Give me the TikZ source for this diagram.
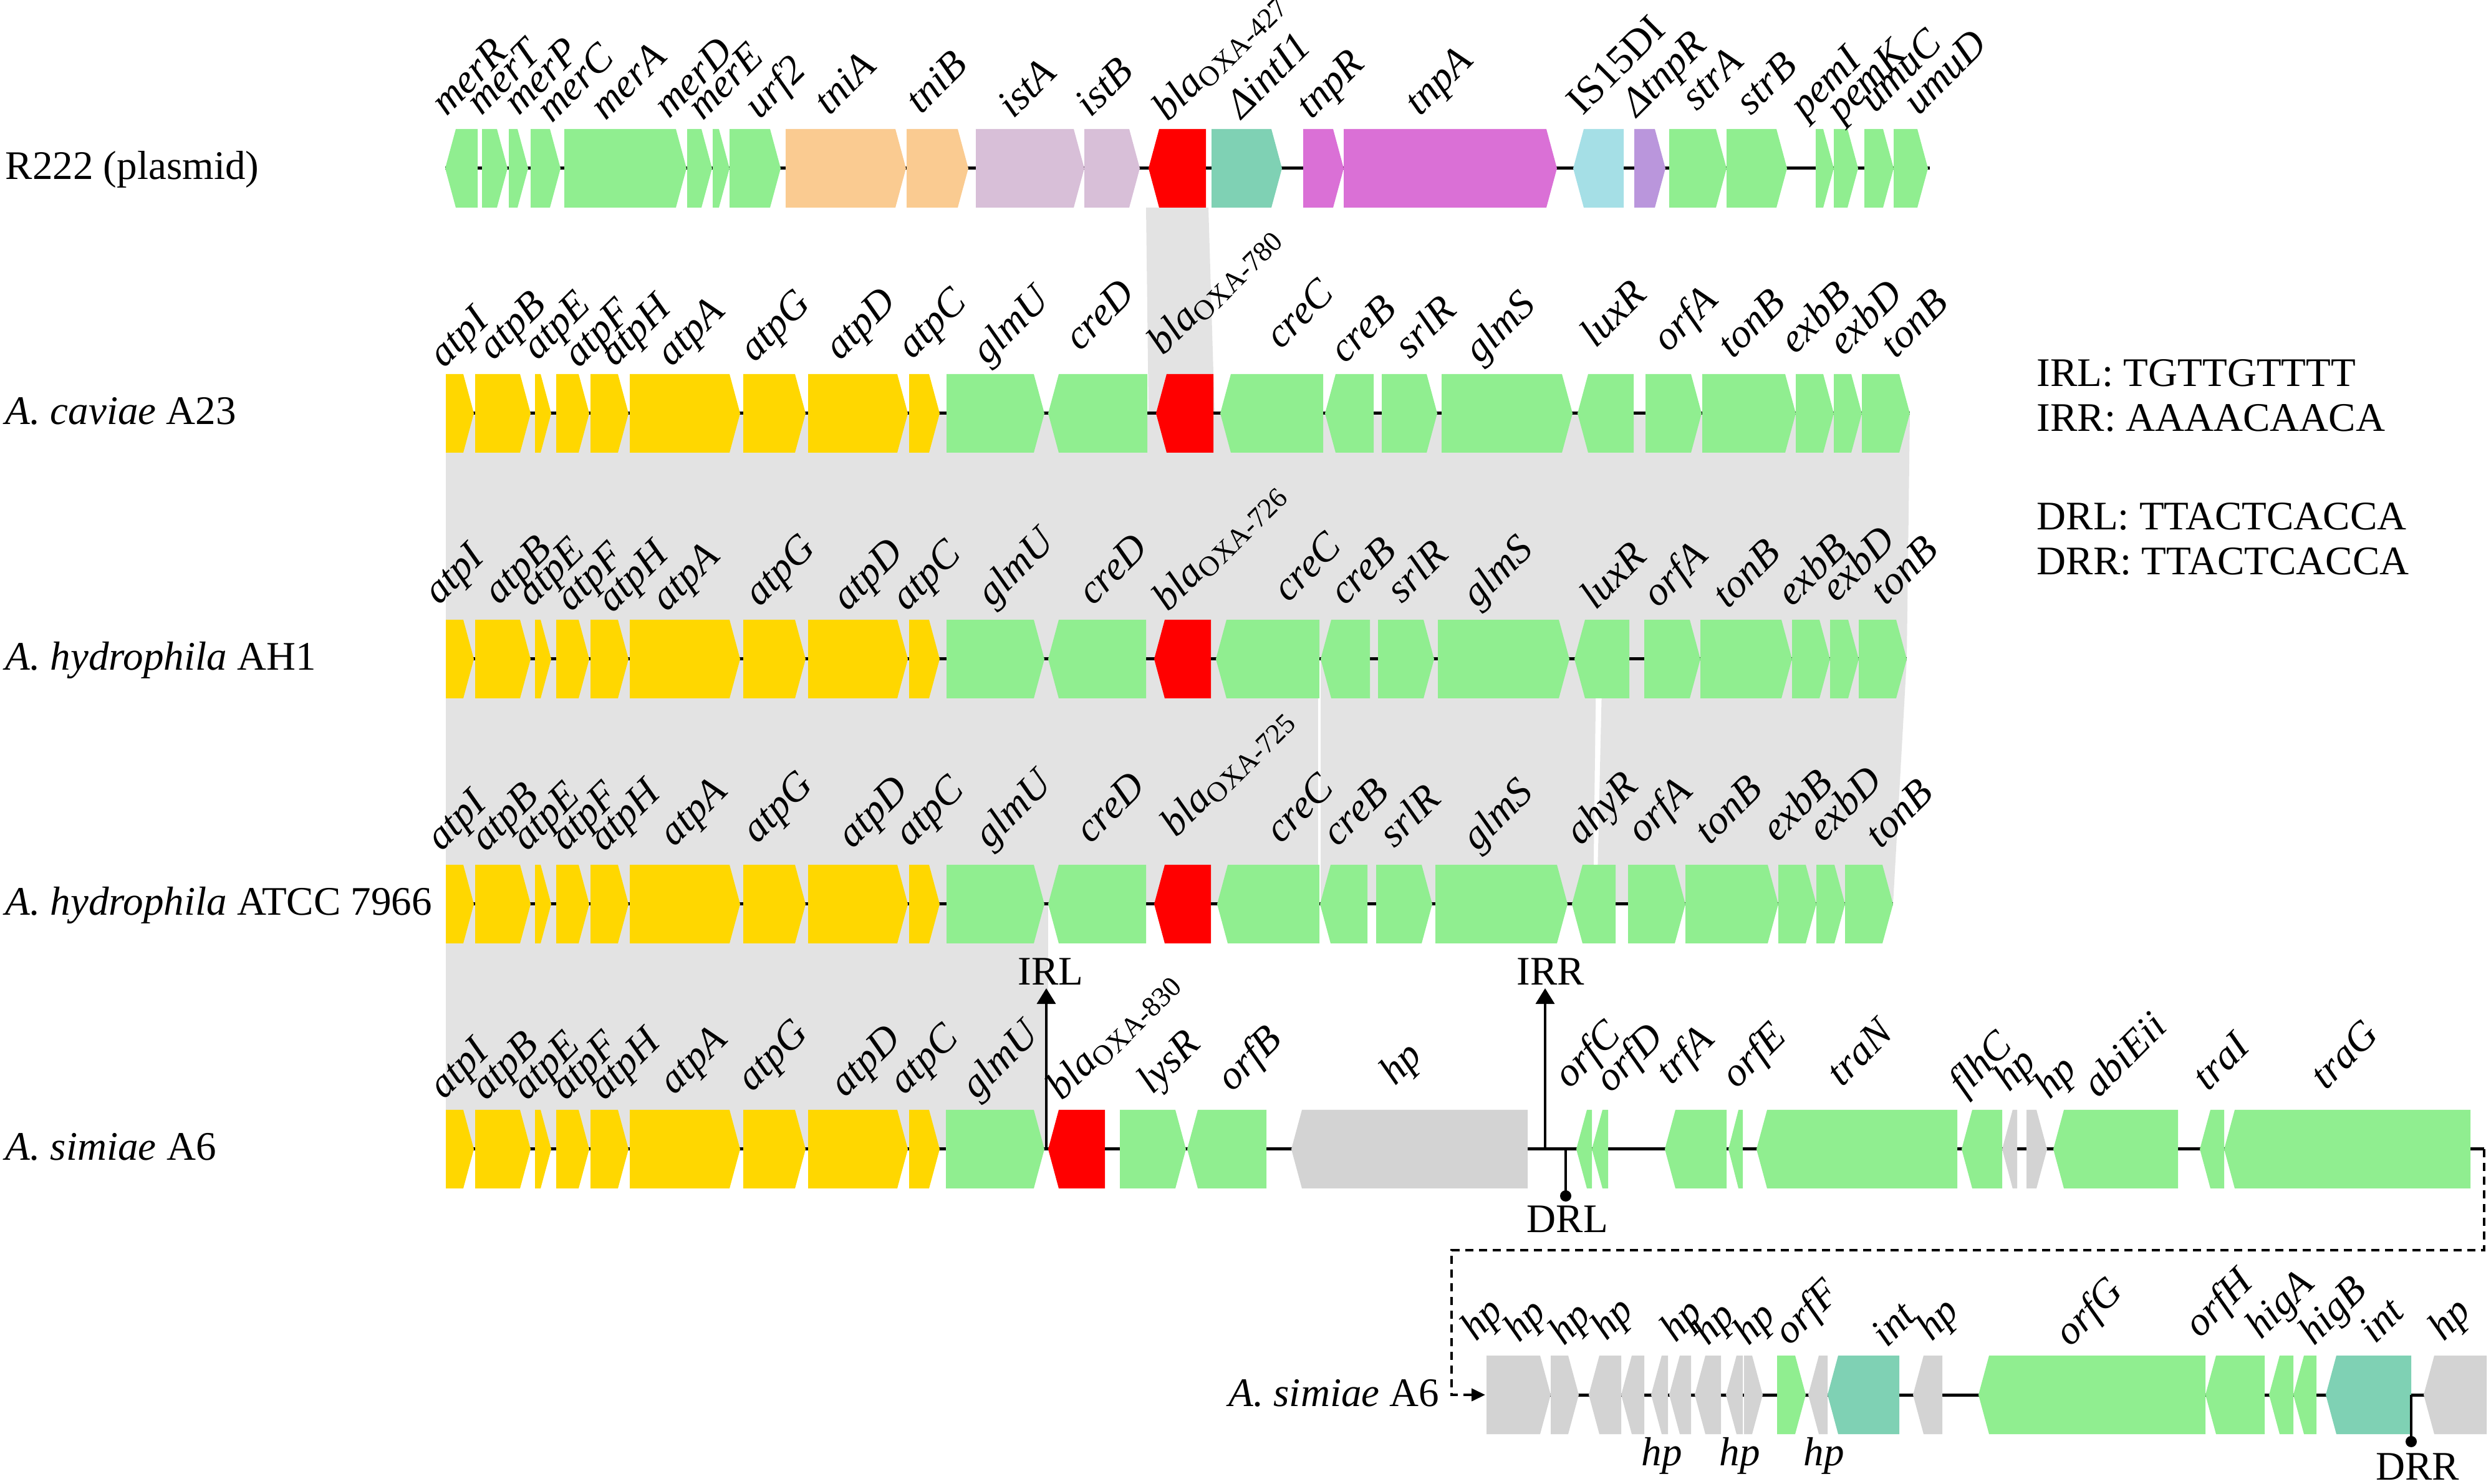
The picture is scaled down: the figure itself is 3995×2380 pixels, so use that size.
\documentclass[tikz,border=0pt]{standalone}
\usepackage{fontspec}
\setmainfont{Liberation Serif}
\usetikzlibrary{arrows.meta}
\definecolor{cG}{RGB}{144,238,144}
\definecolor{cY}{RGB}{255,215,0}
\definecolor{cO}{RGB}{250,203,145}
\definecolor{cT}{RGB}{216,191,216}
\definecolor{cR}{RGB}{255,0,0}
\definecolor{cA}{RGB}{127,209,180}
\definecolor{cM}{RGB}{218,112,214}
\definecolor{cB}{RGB}{165,223,230}
\definecolor{cP}{RGB}{186,150,220}
\definecolor{cH}{RGB}{211,211,211}
\definecolor{conn}{RGB}{227,227,227}
\newcommand\fsz{\fontsize{18.5}{22}\selectfont}
\tikzset{
  glab/.style={rotate=45, anchor=base west, inner sep=0pt, font=\fsz\itshape},
  txt/.style={inner sep=0pt, font=\fsz},
  rowlab/.style={txt, anchor=base west},
  bb/.style={line width=0.05cm},
  mk/.style={line width=0.035cm},
  dsh/.style={line width=0.04cm, dash pattern=on 0.13cm off 0.09cm},
}
\newcommand\generow[2]{%
  \foreach \gl/\gr/\gd/\gc/\gt/\lx/\ly [count=\gi] in {#2} {
    \pgfmathsetmacro\hl{min(17,0.7*(\gr-\gl))}
    \ifnum\gd=1
      \fill[fill=\gc] (\gl,#1-63) -- (\gr-\hl,#1-63) -- (\gr,#1) -- (\gr-\hl,#1+63) -- (\gl,#1+63) -- cycle;
    \else
      \fill[fill=\gc] (\gr,#1-63) -- (\gl+\hl,#1-63) -- (\gl,#1) -- (\gl+\hl,#1+63) -- (\gr,#1+63) -- cycle;
    \fi
    \node[glab] (g#1-\gi) at (\lx,\ly) {\gt};
  }%
}
\newcommand\blalab[1]{bla\textsubscript{\upshape OXA-#1}}
\begin{document}
\begin{tikzpicture}[x=0.01cm, y=-0.01cm]
\useasboundingbox (0,0) rectangle (3995,2380);
% homology connections
\fill[conn] (1838,333) -- (1938,333) -- (1948,663) -- (1842,663) -- cycle;
\fill[conn] (715,663) -- (3063,663) -- (3058,1057) -- (715,1057) -- cycle;
\fill[conn] (715,1057) -- (2114,1057) -- (2114,1450) -- (715,1450) -- cycle;
\fill[conn] (2118,1057) -- (2560,1057) -- (2555,1450) -- (2118,1450) -- cycle;
\fill[conn] (2570,1057) -- (3058,1057) -- (3036,1450) -- (2561,1450) -- cycle;
\fill[conn] (715,1450) -- (1681,1450) -- (1681,1843) -- (715,1843) -- cycle;
% backbones
\draw[bb] (714,270) -- (3095,270);
\draw[bb] (715,663) -- (3063,663);
\draw[bb] (715,1057) -- (3058,1057);
\draw[bb] (715,1450) -- (3036,1450);
\draw[bb] (715,1843) -- (3984,1843);
\draw[bb] (2384,2237) -- (3988,2237);
% row 1
\generow{270}{714/766/-1/cG/merR/716/188, 773/814/1/cG/merT/772/187, 816/847/1/cG/merP/832/187,
 851/899/1/cG/merC/885/199, 905/1101/1/cG/merA/971/195, 1102/1142/1/cG/merD/1073/192,
 1143/1170/1/cG/merE/1127/195, 1170/1252/1/cG/urf2/1218/193, 1260/1453/1/cO/tniA/1330/187,
 1454/1553/1/cO/tniB/1477/185, 1565/1739/1/cT/istA/1625/192, 1739/1828/1/cT/istB/1749/190,
 1842/1934/-1/cR/{\blalab{427}}/1873/197, 1943/2056/1/cA/{ΔintI1}/1991/193,
 2090/2155/1/cM/tnpR/2103/193, 2155/2497/1/cM/tnpA/2277/188, 2523/2604/-1/cB/{\upshape IS15DI}/2538/187,
 2621/2671/1/cP/{ΔtnpR}/2625/190, 2677/2769/1/cG/strA/2721/180, 2769/2866/1/cG/strB/2808/187,
 2912/2941/1/cG/pemI/2895/193, 2941/2980/1/cG/pemK/2953/198, 2990/3037/1/cG/umuC/3007/183,
 3037/3092/1/cG/umuD/3077/187}
% row 2
\generow{663}{715/760/1/cY/atpI/712/592, 762/851/1/cY/atpB/791/580, 858/884/1/cY/atpE/862/580,
 892/945/1/cY/atpF/928/592, 947/1008/1/cY/atpH/986/590, 1010/1187/1/cY/atpA/1077/590,
 1192/1292/1/cY/atpG/1210/583, 1296/1456/1/cY/atpD/1347/580, 1458/1507/1/cY/atpC/1463/578,
 1518/1675/1/cG/glmU/1583/587, 1681/1840/-1/cG/creD/1732/565, 1854/1946/-1/cR/{\blalab{780}}/1865/572,
 1957/2122/-1/cG/creC/2054/562, 2125/2203/-1/cG/creB/2157/585, 2216/2305/1/cG/srlR/2261/578,
 2312/2522/1/cG/glmS/2373/585, 2530/2620/-1/cG/luxR/2559/560, 2639/2729/1/cG/orfA/2675/567,
 2730/2880/1/cG/tonB/2779/577, 2880/2941/1/cG/exbB/2879/570, 2941/2986/1/cG/exbD/2957/573,
 2986/3063/1/cG/tonB/3040/577}
% row 3
\generow{1057}{715/760/1/cY/atpI/704/972, 762/851/1/cY/atpB/800/972, 858/884/1/cY/atpE/853/975,
 892/945/1/cY/atpF/916/983, 947/1008/1/cY/atpH/982/985, 1010/1187/1/cY/atpA/1069/983,
 1192/1292/1/cY/atpG/1218/975, 1296/1456/1/cY/atpD/1359/982, 1458/1507/1/cY/atpC/1454/982,
 1518/1675/1/cG/glmU/1591/975, 1681/1838/-1/cG/creD/1753/973, 1851/1942/-1/cR/{\blalab{726}}/1873/983,
 1950/2116/-1/cG/creC/2066/968, 2118/2197/-1/cG/creB/2157/973, 2210/2300/1/cG/srlR/2248/970,
 2306/2517/1/cG/glmS/2369/977, 2525/2613/-1/cG/luxR/2559/980, 2637/2727/1/cG/orfA/2659/977,
 2727/2874/1/cG/tonB/2771/978, 2874/2935/1/cG/exbB/2874/975, 2935/2981/1/cG/exbD/2945/968,
 2981/3058/1/cG/tonB/3024/973}
% row 4
\generow{1450}{715/760/1/cY/atpI/708/1367, 762/851/1/cY/atpB/779/1368, 858/884/1/cY/atpE/845/1367,
 892/945/1/cY/atpF/907/1367, 947/1008/1/cY/atpH/969/1368, 1010/1187/1/cY/atpA/1081/1360,
 1192/1292/1/cY/atpG/1214/1355, 1296/1456/1/cY/atpD/1367/1363, 1458/1507/1/cY/atpC/1459/1360,
 1518/1675/1/cG/glmU/1587/1363, 1681/1838/-1/cG/creD/1749/1355, 1851/1942/-1/cR/{\blalab{725}}/1886/1345,
 1952/2116/-1/cG/creC/2054/1355, 2117/2193/-1/cG/creB/2145/1360, 2207/2297/1/cG/srlR/2236/1362,
 2302/2514/1/cG/glmS/2369/1367, 2521/2591/-1/cG/ahyR/2535/1358, 2611/2703/1/cG/orfA/2634/1355,
 2703/2852/1/cG/tonB/2742/1357, 2852/2913/1/cG/exbB/2850/1353, 2913/2959/1/cG/exbD/2924/1353,
 2959/3036/1/cG/tonB/3016/1363}
% row 5
\generow{1843}{715/760/1/cY/atpI/712/1765, 762/851/1/cY/atpB/779/1767, 858/884/1/cY/atpE/845/1767,
 892/945/1/cY/atpF/907/1767, 947/1008/1/cY/atpH/969/1767, 1010/1187/1/cY/atpA/1081/1758,
 1192/1292/1/cY/atpG/1206/1753, 1296/1456/1/cY/atpD/1355/1762, 1458/1507/1/cY/atpC/1450/1758,
 1517/1675/1/cG/glmU/1566/1765, 1681/1772/-1/cR/{\blalab{830}}/1703/1767, 1796/1902/1/cG/lysR/1848/1757,
 1904/2031/-1/cG/orfB/1976/1753, 2071/2450/-1/cH/hp/2237/1743, 2528/2553/-1/cG/orfC/2517/1748,
 2553/2579/-1/cG/orfD/2583/1755, 2670/2769/-1/cG/trfA/2680/1742, 2772/2795/-1/cG/orfE/2785/1748,
 2817/3139/-1/cG/traN/2954/1745, 3146/3211/-1/cG/flhC/3150/1760, 3211/3235/-1/cH/hp/3222/1753,
 3250/3283/1/cH/hp/3287/1765, 3293/3493/-1/cG/abiEii/3365/1763, 3528/3567/-1/cG/traI/3541/1752,
 3567/3962/-1/cG/traG/3730/1750}
% row 6
\generow{2237}{2384/2487/1/cH/hp/2367/2153, 2487/2532/1/cH/hp/2436/2155, 2548/2600/-1/cH/hp/2508/2160,
 2600/2637/-1/cH/hp/2576/2152, 2648/2675/-1/cH/{}/2660/2160, 2677/2712/-1/cH/hp/2687/2155,
 2718/2760/-1/cH/hp/2739/2160, 2768/2795/-1/cH/{}/2780/2160, 2797/2827/1/cH/hp/2804/2160,
 2850/2896/1/cG/orfF/2870/2160, 2900/2931/-1/cH/{}/2910/2160, 2931/3046/-1/cA/int/3026/2163,
 3068/3115/-1/cH/hp/3098/2153, 3173/3537/-1/cG/orfG/3320/2162, 3537/3632/-1/cG/orfH/3528/2148,
 3639/3678/-1/cG/higA/3626/2150, 3678/3715/-1/cG/higB/3711/2160, 3730/3867/-1/cA/int/3809/2157,
 3887/3988/-1/cH/hp/3919/2153}
% lower hp labels
\node[txt, anchor=base, font=\fsz\itshape] (hpb1) at (2665,2350) {hp};
\node[txt, anchor=base, font=\fsz\itshape] (hpb2) at (2790,2350) {hp};
\node[txt, anchor=base, font=\fsz\itshape] (hpb3) at (2925,2350) {hp};
% row labels
\node[rowlab] (n1) at (8,288) {R222 (plasmid)};
\node[rowlab] (n2) at (8,681) {\textit{A. caviae} A23};
\node[rowlab] (n3) at (8,1075) {\textit{A. hydrophila} AH1};
\node[rowlab] (n4) at (8,1468) {\textit{A. hydrophila} ATCC 7966};
\node[rowlab] (n5) at (8,1861) {\textit{A. simiae} A6};
\node[txt, anchor=base east] (n6) at (2309,2255) {\textit{A. simiae} A6};
% sequences
\node[rowlab] (s1) at (3266,620) {IRL: TGTTGTTTT};
\node[rowlab] (s2) at (3266,692) {IRR: AAAACAACA};
\node[rowlab] (s3) at (3266,850) {DRL: TTACTCACCA};
\node[rowlab] (s4) at (3266,922) {DRR: TTACTCACCA};
% IR / DR markers
\coordinate (irlB) at (1678,1843); \coordinate (irlT) at (1678,1585);
\coordinate (irrB) at (2478,1843); \coordinate (irrT) at (2478,1585);
\draw[mk, -{Triangle[length=0.25cm,width=0.3cm]}] (irlB) -- (irlT);
\draw[mk, -{Triangle[length=0.25cm,width=0.3cm]}] (irrB) -- (irrT);
\node[txt, anchor=base] (IRL) at (1685,1580) {IRL};
\node[txt, anchor=base] (IRR) at (2487,1580) {IRR};
\coordinate (drlB) at (2511,1843); \coordinate (drlT) at (2511,1918);
\coordinate (drrB) at (3867,2237); \coordinate (drrT) at (3867,2312);
\draw[mk] (drlB) -- (drlT);
\draw[mk] (drrB) -- (drrT);
\fill (drlT) circle[radius=0.09cm];
\fill (drrT) circle[radius=0.09cm];
\node[txt, anchor=base] (DRL) at (2514,1977) {DRL};
\node[txt, anchor=base] (DRR) at (3877,2373) {DRR};
% continuation
\coordinate (cA) at (3984,1843); \coordinate (cB) at (3984,2005);
\coordinate (cC) at (2328,2005); \coordinate (cD) at (2328,2237);
\coordinate (cE) at (2382,2237);
\draw[dsh, -{Triangle[length=0.22cm,width=0.2cm]}] (cA) -- (cB) -- (cC) -- (cD) -- (cE);
\end{tikzpicture}
\end{document}
